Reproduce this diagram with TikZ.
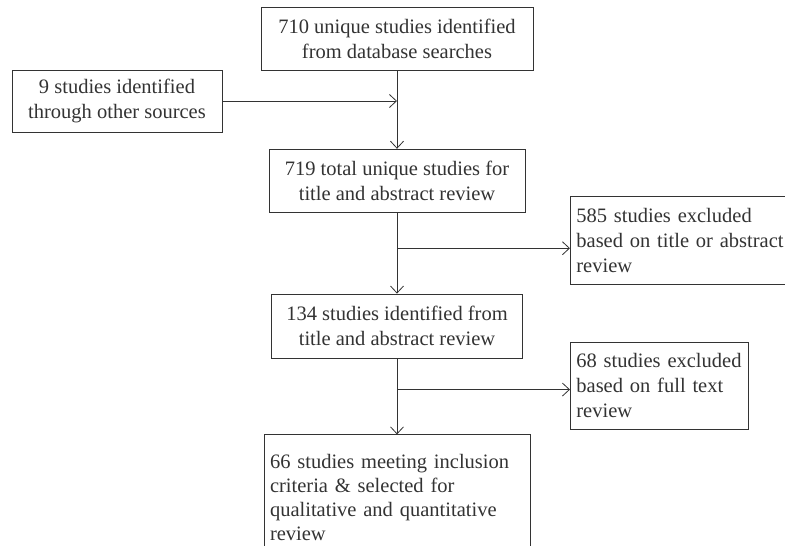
\documentclass[tikz,border=0pt]{standalone}
\usepackage{fontspec}
\setmainfont{Liberation Serif}
\usepackage{tikz}
\usepackage{xcolor}
\usetikzlibrary{arrows.meta, positioning, calc}
\definecolor{inkgray}{HTML}{333333}

\begin{document}
\begin{tikzpicture}[x=1pt, y=-1pt, node distance=78pt,
  box/.style={draw=inkgray, line width=0.8pt, text=inkgray, inner xsep=6pt,
    font=\fontsize{20.5}{25}\selectfont},
  leftbox/.style={box, align=left, anchor=north west},
  link/.style={-{Straight Barb[length=7pt, width=13pt]}, draw=inkgray, line width=0.8pt}]
\clip (0,0) rectangle (785,546);

% Main column
\node[box, align=center, anchor=north, minimum width=272pt, minimum height=63pt] (found) at (397,7) {710 unique studies identified\\from database searches};
\node[box, align=center, minimum width=256pt, minimum height=63pt, below=of found] (total) {719 total unique studies for\\title and abstract review};
\node[box, align=center, minimum width=251pt, minimum height=64pt, below=81pt of total] (screened) {134 studies identified from\\title and abstract review};
\node[box, align=left, text width=254pt, inner ysep=19pt, font=\fontsize{20.5}{24}\selectfont, below=76pt of screened] (included) {66 studies meeting inclusion\\criteria \& selected for\\qualitative and quantitative\\review};

% Side boxes
\node[box, align=center, minimum width=210pt, minimum height=62pt] (other) at (117,101) {9 studies identified\\through other sources};
\node[leftbox, text width=218pt, minimum height=88pt] (excl1) at (570,196) {585 studies excluded\\based on title or abstract\\review};
\node[leftbox, text width=166pt, minimum height=87pt] (excl2) at (570,342) {68 studies excluded\\based on full text\\review};

% Arrows
\coordinate (split1) at ($(total.south)!0.44!(screened.north)$);
\coordinate (split2) at ($(screened.south)!0.41!(included.north)$);
\draw[link] (found) -- (total);
\draw[link] (other.east) -- (other.east -| found.south);
\draw[link] (total) -- (screened);
\draw[link] (split1) -- (split1 -| excl1.west);
\draw[link] (screened) -- (included);
\draw[link] (split2) -- (split2 -| excl2.west);
\end{tikzpicture}
\end{document}
